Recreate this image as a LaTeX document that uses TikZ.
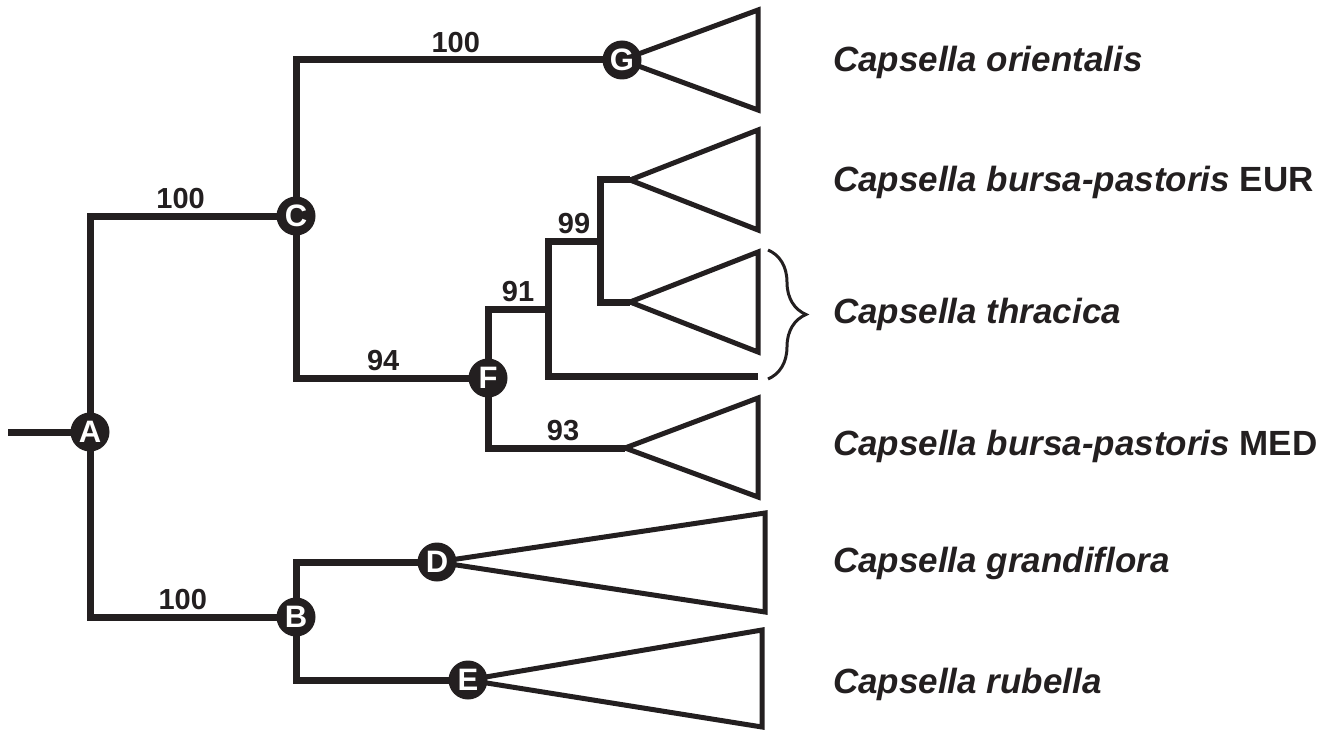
\documentclass[tikz,border=0pt]{standalone}
\usepackage{fontspec}
\setmainfont{Liberation Sans}
\usepackage{xcolor}
\usepackage{tikz}
\usetikzlibrary{backgrounds, decorations.pathreplacing}
\definecolor{treeblack}{HTML}{231F20}

\begin{document}
\begin{tikzpicture}[x=1pt,y=-1pt,
  every node/.style={text=treeblack},
  branch/.style={draw=treeblack, line width=7pt},
  clade/.style={draw=treeblack, line width=5pt, line join=miter},
  knot/.style={circle, fill=treeblack, text=white, inner sep=0pt, minimum size=39pt,
    font=\fontsize{31}{32}\selectfont\bfseries},
  support/.style={above, font=\fontsize{29}{30}\selectfont\bfseries},
  taxon/.style={anchor=base west, inner sep=0pt, font=\fontsize{35}{40}\selectfont\bfseries}]

\useasboundingbox (0,0) rectangle (1327,730);

% Nodes of the tree
\node[knot] (A) at (90,432) {A};
\node[knot] (B) at (296,617) {B};
\node[knot] (C) at (296,216) {C};
\node[knot] (D) at (437,562) {D};
\node[knot] (E) at (468,680) {E};
\node[knot] (F) at (488,378) {F};
\node[knot] (G) at (622,60) {G};

% Inner junctions and tips
\coordinate (root) at (8,432);
\coordinate (j91) at (548,309);
\coordinate (j99) at (600,241);
\coordinate (tEUR) at (630,180);
\coordinate (tThr) at (630,302);
\coordinate (tMED) at (625,448);
\coordinate (tLine) at (758,376);

\begin{scope}[on background layer]
% Branches
\draw[branch] (root) -- (A.center);
\draw[branch] (A.center) |- node[support, pos=.72] {100} (C.center);
\draw[branch] (A.center) |- node[support, pos=.725] {100} (B.center);
\draw[branch] (C.center) |- node[support, pos=.745] {100} (G.center);
\draw[branch] (C.center) |- node[support, pos=.727] {94} (F.center);
\draw[branch] (F.center) |- node[support, pos=.75] {91} (j91);
\draw[branch] (F.center) |- node[support, pos=.774] {93} (tMED);
\draw[branch] (j91) |- node[support, pos=.75] {99} (j99);
\draw[branch] (j91) |- (tLine);
\draw[branch] (j99) |- (tEUR);
\draw[branch] (j99) |- (tThr);
\draw[branch] (B.center) |- (D.center);
\draw[branch] (B.center) |- (E.center);

% Collapsed clades
\draw[clade] (G.center) -- (758,10) -- (758,110) -- cycle;
\draw[clade] (tEUR) -- (758,130) -- (758,230) -- cycle;
\draw[clade] (tThr) -- (758,252) -- (758,352) -- cycle;
\draw[clade] (tMED) -- (758,398) -- (758,497) -- cycle;
\draw[clade] (D.center) -- (765,513) -- (765,612) -- cycle;
\draw[clade] (E.center) -- (762,630) -- (762,727) -- cycle;
\end{scope}

% Brace round thracica
\draw[treeblack, line width=3pt, decorate, decoration={brace, amplitude=38pt, aspect=.5}]
  (768,250) -- (768,379);

% Taxa
\node[taxon] (orientalis) at (833,72) {\itshape Capsella orientalis};
\node[taxon] (eur) at (833,192) {{\itshape Capsella bursa-pastoris} EUR};
\node[taxon] (thracica) at (833,323) {\itshape Capsella thracica};
\node[taxon] (med) at (833,455) {{\itshape Capsella bursa-pastoris} MED};
\node[taxon] (grandiflora) at (833,572) {\itshape Capsella grandiflora};
\node[taxon] (rubella) at (833,693) {\itshape Capsella rubella};

\end{tikzpicture}
\end{document}
